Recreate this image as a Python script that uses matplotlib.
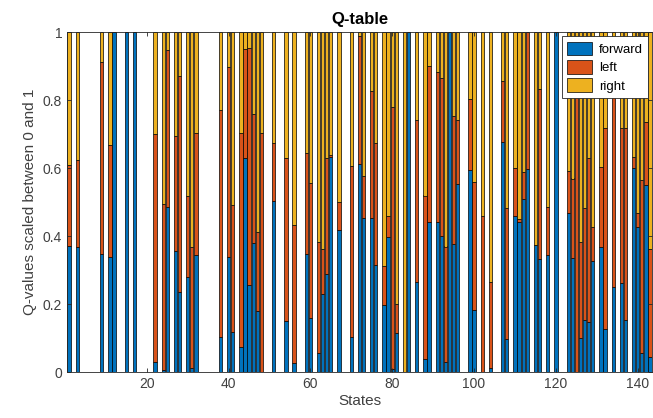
import numpy as np
import matplotlib.pyplot as plt

plt.rcParams['font.family'] = ['Liberation Sans', 'DejaVu Sans']

# states with non-zero Q-values (others are empty)
states = [1, 3, 9, 11, 12, 15, 17, 22, 24, 25, 27, 28, 30, 31, 32, 38, 40, 41, 43, 44,
          45, 46, 47, 48, 51, 54, 56, 59, 60, 62, 63, 64, 65, 67, 70, 72, 73, 75, 76, 78,
          79, 80, 81, 83, 84, 86, 88, 89, 91, 92, 93, 94, 95, 96, 99, 100, 102, 104, 107, 108,
          110, 111, 112, 113, 115, 116, 118, 120, 123, 124, 125, 126, 127, 128, 129, 131, 132, 134, 136, 137,
          139, 140, 141, 142, 143]

forward = [0.372, 0.368, 0.347, 0.338, 1, 1, 1, 0.031, 0.007, 0.485, 0.358, 0.235, 0.281, 0.014, 0.345, 0.105, 0.338, 0.118, 0.075, 0.629,
           0.257, 0.379, 0.180, 0.002, 0.505, 0.152, 0.026, 0.347, 0.161, 0.058, 0.229, 0.289, 0.634, 0.419, 0.103, 0.612, 0.455, 0.453, 0.316, 0.198,
           0.397, 0.010, 0.115, 0, 1, 0.267, 0.038, 0.443, 0.443, 0.402, 0.031, 1, 0.377, 0.553, 0.595, 0.183, 0, 0.014, 0.676, 0.098,
           0.461, 0.443, 0.510, 0.598, 0.375, 0.332, 0.345, 1, 0.470, 0.335, 0, 0.100, 0.154, 0.147, 0.328, 0.370, 0.127, 0.252, 0.262, 0.154,
           0.600, 0.428, 0.056, 0.551, 0.046]

left = [0.238, 0.257, 0.565, 0.332, 0, 0, 0, 0.669, 0.488, 0.463, 0.337, 0.637, 0.239, 0.356, 0.358, 0.667, 0.561, 0.374, 0.630, 0.322,
        0.696, 0.381, 0.234, 0.701, 0.169, 0.478, 0.407, 0.297, 0.395, 0.326, 0.133, 0.342, 0.005, 0.081, 0.505, 0.378, 0.122, 0.374, 0.358, 0.116,
        0.063, 0.769, 0.085, 0, 0, 0.475, 0.482, 0.458, 0.441, 0.463, 0.339, 0, 0.378, 0.189, 0.209, 0.378, 0.461, 0.251, 0.181, 0.386,
        0.139, 0.007, 0.080, 0.402, 0, 0.501, 0.140, 0, 0.122, 0.235, 0.930, 0.282, 0.328, 0.483, 0.098, 0.235, 0.591, 0.698, 0.458, 0.564,
        0.034, 0.040, 0.510, 0.186, 0.317]

right = [0.390, 0.375, 0.088, 0.330, 0, 0, 0, 0.300, 0.505, 0.052, 0.305, 0.128, 0.480, 0.630, 0.297, 0.228, 0.101, 0.508, 0.295, 0.049,
         0.047, 0.240, 0.586, 0.297, 0.326, 0.370, 0.567, 0.356, 0.444, 0.616, 0.638, 0.369, 0.361, 0.500, 0.392, 0.010, 0.423, 0.173, 0.326, 0.686,
         0.540, 0.221, 0.800, 1, 0, 0.258, 0.480, 0.099, 0.116, 0.135, 0.630, 0, 0.245, 0.258, 0.196, 0.439, 0.539, 0.735, 0.143, 0.516,
         0.400, 0.550, 0.410, 0, 0.625, 0.167, 0.515, 0, 0.408, 0.430, 0.070, 0.618, 0.518, 0.370, 0.574, 0.395, 0.282, 0.050, 0.280, 0.282,
         0.366, 0.532, 0.434, 0.263, 0.637]

n_states = 143

forward = np.array(forward)
left = np.array(left)
right = np.array(right)

fig = plt.figure(figsize=(6.53, 4.18), dpi=100)
ax = fig.add_axes([67 / 653, 45.7 / 418, 585 / 653, 340 / 418])

kw = dict(width=0.8, edgecolor='black', linewidth=0.5)
ax.bar(states, forward, color='#0072BD', label='forward', **kw)
ax.bar(states, left, bottom=forward, color='#D95319', label='left', **kw)
ax.bar(states, right, bottom=forward + left, color='#EDB120', label='right', **kw)

ax.set_xlim(0.5, n_states + 0.5)
ax.set_ylim(0, 1)
ax.set_xticks(range(20, 141, 20))
ax.set_yticks([0, 0.2, 0.4, 0.6, 0.8, 1])
ax.set_yticklabels(['0', '0.2', '0.4', '0.6', '0.8', '1'])
ax.tick_params(direction='in', top=True, right=True, length=3, width=0.6,
               colors='#262626', labelsize=10, labelcolor='#404040')
for s in ax.spines.values():
    s.set_color('#262626')
    s.set_linewidth(0.6)

ax.set_title('Q-table', fontsize=12, fontweight='bold', pad=6)
ax.set_xlabel('States', fontsize=11, color='#404040', labelpad=2)
ax.set_ylabel('Q-values scaled between 0 and 1', fontsize=11, color='#404040', labelpad=4)

leg = ax.legend(loc='upper right', fontsize=9.5, fancybox=False, framealpha=1,
                edgecolor='#262626', borderaxespad=0.3, handlelength=1.9,
                handleheight=1.25, borderpad=0.4, labelspacing=0.3, handletextpad=0.5)
leg.get_frame().set_linewidth(0.6)

fig.savefig('out.png', dpi=100)
